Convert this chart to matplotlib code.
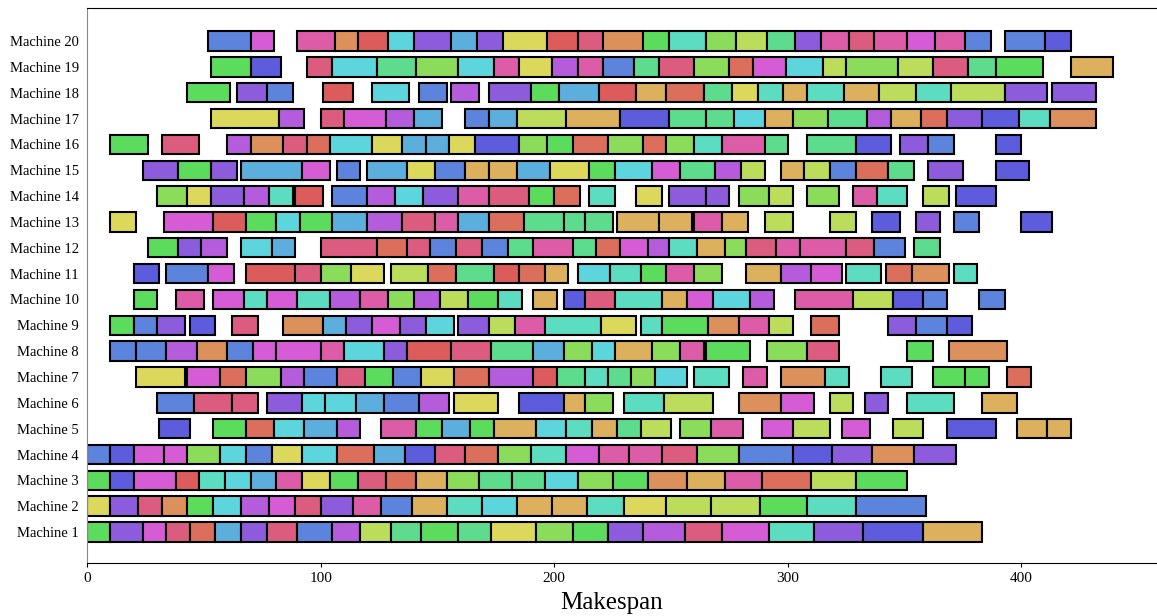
import matplotlib
matplotlib.use("Agg")
import matplotlib.pyplot as plt

# job colours (hls-like palette)
colors = {
    "r": "#dc5c5c", "R": "#dc5c80", "k": "#dc5ca8", "m": "#d65cd6",
    "v": "#b55cdc", "p": "#8c5cdc", "i": "#5c5cdc", "b": "#5c84dc",
    "s": "#5caedc", "c": "#5cd6dc", "t": "#5cdcc0", "e": "#5cdc8c",
    "g": "#5cdc5c", "h": "#8cdc5c", "l": "#bcdc5c", "y": "#dcd85c",
    "a": "#dcb05c", "o": "#dc905c", "n": "#dc6e5c",
}

# (start, end, job colour) per machine
M1 = [(0,10,"g"),(10,24,"p"),(24,34,"m"),(34,44,"R"),(44,55,"n"),(55,66,"s"),(66,77,"p"),(77,90,"R"),(90,105,"b"),(105,117,"v"),(117,130,"l"),(130,143,"e"),(143,159,"g"),(159,173,"e"),(173,192,"y"),(192,208,"h"),(208,223,"g"),(223,238,"p"),(238,256,"v"),(256,272,"R"),(272,292,"m"),(292,311,"t"),(311,332,"p"),(332,358,"i"),(358,383,"a")]
M2 = [(0,10,"y"),(10,22,"p"),(22,32,"R"),(32,43,"o"),(43,54,"g"),(54,66,"c"),(66,78,"v"),(78,89,"m"),(89,100,"R"),(100,114,"p"),(114,126,"k"),(126,139,"b"),(139,154,"a"),(154,169,"t"),(169,184,"c"),(184,199,"a"),(199,214,"a"),(214,230,"t"),(230,248,"y"),(248,267,"l"),(267,288,"l"),(288,308,"g"),(308,329,"t"),(329,359,"b")]
M3 = [(0,10,"g"),(10,20,"i"),(20,38,"m"),(38,48,"r"),(48,59,"t"),(59,70,"c"),(70,81,"s"),(81,92,"k"),(92,104,"y"),(104,116,"g"),(116,128,"R"),(128,141,"n"),(141,154,"a"),(154,168,"h"),(168,182,"e"),(182,196,"e"),(196,210,"c"),(210,225,"h"),(225,240,"g"),(240,257,"o"),(257,273,"a"),(273,289,"k"),(289,310,"n"),(310,329,"l"),(329,351,"g")]
M4 = [(0,10,"b"),(10,20,"i"),(20,33,"m"),(33,43,"m"),(43,57,"h"),(57,68,"c"),(68,79,"b"),(79,92,"y"),(92,107,"c"),(107,123,"n"),(123,136,"s"),(136,149,"i"),(149,162,"R"),(162,176,"n"),(176,190,"h"),(190,205,"t"),(205,219,"m"),(219,232,"k"),(232,246,"k"),(246,261,"R"),(261,279,"h"),(279,302,"b"),(302,319,"i"),(319,336,"p"),(336,354,"o"),(354,372,"p")]
M5 = [(31,44,"i"),(54,68,"g"),(68,80,"n"),(80,93,"c"),(93,107,"s"),(107,117,"v"),(126,141,"k"),(141,152,"g"),(152,164,"s"),(164,174,"g"),(174,192,"a"),(192,205,"c"),(205,216,"t"),(216,227,"a"),(227,237,"e"),(237,250,"l"),(254,267,"h"),(267,281,"k"),(289,302,"m"),(302,318,"l"),(323,335,"m"),(345,358,"l"),(368,389,"i"),(398,411,"a"),(411,421,"a")]
M6 = [(30,46,"b"),(46,62,"R"),(62,73,"R"),(77,92,"p"),(92,102,"c"),(102,115,"c"),(115,127,"s"),(127,142,"b"),(142,155,"v"),(157,176,"y"),(185,204,"i"),(204,213,"a"),(213,225,"h"),(230,247,"t"),(247,268,"l"),(279,297,"o"),(297,311,"m"),(318,328,"l"),(333,343,"p"),(351,371,"t"),(383,398,"a")]
M7 = [(21,42,"y"),(43,57,"m"),(57,68,"n"),(68,83,"h"),(83,93,"v"),(93,107,"b"),(107,119,"R"),(119,131,"g"),(131,143,"b"),(143,157,"y"),(157,172,"n"),(172,191,"v"),(191,201,"r"),(201,213,"e"),(213,223,"t"),(223,233,"e"),(233,243,"h"),(243,257,"c"),(260,275,"t"),(281,291,"k"),(297,316,"o"),(316,326,"t"),(340,353,"t"),(362,376,"g"),(376,386,"g"),(394,404,"n")]
M8 = [(10,21,"b"),(21,34,"b"),(34,47,"v"),(47,60,"o"),(60,71,"b"),(71,81,"m"),(81,100,"m"),(100,110,"k"),(110,127,"c"),(127,137,"p"),(137,156,"r"),(156,173,"R"),(173,191,"e"),(191,204,"s"),(204,216,"h"),(216,226,"c"),(226,242,"a"),(242,254,"h"),(254,264,"k"),(265,284,"g"),(291,308,"h"),(308,322,"R"),(351,362,"g"),(369,394,"o")]
M9 = [(10,20,"g"),(20,30,"b"),(30,42,"p"),(44,55,"i"),(62,73,"R"),(84,101,"o"),(101,111,"s"),(111,122,"p"),(122,134,"m"),(134,145,"p"),(145,157,"c"),(159,172,"p"),(172,183,"l"),(183,196,"k"),(196,220,"t"),(220,235,"y"),(237,246,"t"),(246,266,"g"),(266,279,"o"),(279,292,"k"),(292,302,"l"),(310,322,"n"),(343,355,"p"),(355,368,"b"),(368,379,"i")]
M10 = [(20,30,"g"),(38,50,"k"),(54,67,"m"),(67,77,"t"),(77,90,"m"),(90,104,"t"),(104,117,"v"),(117,129,"k"),(129,140,"h"),(140,151,"v"),(151,163,"l"),(163,176,"g"),(176,186,"t"),(191,201,"a"),(204,213,"i"),(213,226,"R"),(226,246,"t"),(246,257,"a"),(257,268,"m"),(268,284,"c"),(284,294,"v"),(303,328,"k"),(328,345,"l"),(345,358,"i"),(358,368,"b"),(382,393,"b")]
M11 = [(20,31,"i"),(34,52,"b"),(52,63,"m"),(68,89,"r"),(89,100,"R"),(100,113,"h"),(113,127,"y"),(130,146,"l"),(146,158,"n"),(158,174,"e"),(174,185,"r"),(185,196,"n"),(196,206,"a"),(210,224,"c"),(224,237,"t"),(237,248,"g"),(248,260,"k"),(260,272,"h"),(282,297,"a"),(297,310,"v"),(310,323,"m"),(325,340,"t"),(342,353,"n"),(353,369,"o"),(371,381,"t")]
M12 = [(26,39,"g"),(39,49,"p"),(49,60,"v"),(66,79,"c"),(79,89,"s"),(100,124,"R"),(124,137,"n"),(137,147,"R"),(147,158,"b"),(158,169,"R"),(169,180,"b"),(180,191,"e"),(191,208,"k"),(208,218,"e"),(218,228,"n"),(228,240,"m"),(240,249,"v"),(249,261,"t"),(261,273,"a"),(273,282,"h"),(282,295,"R"),(295,305,"k"),(305,325,"k"),(325,337,"R"),(337,350,"b"),(354,365,"e")]
M13 = [(10,21,"y"),(33,54,"m"),(54,68,"r"),(68,81,"g"),(81,91,"c"),(91,105,"g"),(105,120,"s"),(120,135,"v"),(135,149,"R"),(149,159,"k"),(159,172,"s"),(172,187,"n"),(187,204,"e"),(204,213,"e"),(213,225,"e"),(227,245,"a"),(245,259,"a"),(260,272,"k"),(272,283,"a"),(290,302,"l"),(318,329,"l"),(336,348,"i"),(355,365,"p"),(371,382,"b"),(400,413,"i")]
M14 = [(30,43,"h"),(43,53,"y"),(53,67,"p"),(67,78,"v"),(78,88,"t"),(89,101,"r"),(105,120,"b"),(120,132,"v"),(132,144,"c"),(144,159,"p"),(159,172,"k"),(172,189,"R"),(189,200,"g"),(200,211,"n"),(215,226,"t"),(235,246,"y"),(249,265,"p"),(265,275,"p"),(279,292,"h"),(292,302,"l"),(308,322,"h"),(328,338,"k"),(338,351,"t"),(358,369,"l"),(372,389,"i")]
M15 = [(24,39,"p"),(39,53,"g"),(53,64,"p"),(66,92,"s"),(92,104,"m"),(107,117,"b"),(120,137,"s"),(137,149,"y"),(149,162,"b"),(162,172,"a"),(172,184,"a"),(184,198,"s"),(198,215,"y"),(215,226,"g"),(226,242,"c"),(242,254,"m"),(254,269,"e"),(269,280,"v"),(280,290,"l"),(297,307,"a"),(307,318,"l"),(318,329,"b"),(329,343,"n"),(343,354,"e"),(360,375,"p"),(389,403,"i")]
M16 = [(10,26,"g"),(32,48,"R"),(60,70,"v"),(70,84,"o"),(84,94,"R"),(94,104,"n"),(104,122,"c"),(122,135,"y"),(135,145,"s"),(145,155,"s"),(155,166,"y"),(166,185,"i"),(185,197,"h"),(197,208,"g"),(208,223,"n"),(223,238,"h"),(238,248,"n"),(248,260,"h"),(260,272,"t"),(272,290,"k"),(290,300,"e"),(308,329,"e"),(329,344,"i"),(348,360,"p"),(360,371,"b"),(389,400,"i")]
M17 = [(53,82,"y"),(82,93,"v"),(100,110,"R"),(110,128,"m"),(128,140,"v"),(140,152,"s"),(162,172,"b"),(172,184,"s"),(184,205,"l"),(205,228,"a"),(228,249,"i"),(249,265,"e"),(265,277,"e"),(277,290,"c"),(290,302,"a"),(302,317,"h"),(317,334,"e"),(334,344,"v"),(344,357,"a"),(357,368,"n"),(368,383,"p"),(383,399,"i"),(399,412,"t"),(412,432,"o")]
M18 = [(43,61,"g"),(64,77,"p"),(77,88,"b"),(101,114,"r"),(122,138,"c"),(142,154,"b"),(156,168,"v"),(172,190,"p"),(190,202,"g"),(202,219,"s"),(219,235,"r"),(235,248,"a"),(248,264,"n"),(264,276,"e"),(276,287,"y"),(287,298,"t"),(298,308,"a"),(308,324,"t"),(324,339,"a"),(339,355,"l"),(355,370,"t"),(370,393,"l"),(393,411,"p"),(413,432,"p")]
M19 = [(53,70,"g"),(70,83,"i"),(94,105,"R"),(105,124,"c"),(124,141,"e"),(141,159,"h"),(159,174,"c"),(174,185,"k"),(185,199,"y"),(199,210,"v"),(210,221,"k"),(221,234,"b"),(234,245,"e"),(245,260,"R"),(260,275,"h"),(275,285,"n"),(285,299,"m"),(299,315,"c"),(315,325,"l"),(325,347,"h"),(347,362,"l"),(362,377,"R"),(377,389,"e"),(389,409,"g"),(421,439,"a")]
M20 = [(52,70,"b"),(70,80,"m"),(90,106,"k"),(106,116,"o"),(116,129,"r"),(129,140,"c"),(140,156,"p"),(156,167,"s"),(167,178,"p"),(178,197,"y"),(197,210,"r"),(210,221,"R"),(221,238,"o"),(238,249,"g"),(249,265,"t"),(265,278,"h"),(278,291,"l"),(291,303,"e"),(303,314,"p"),(314,326,"k"),(326,337,"R"),(337,351,"k"),(351,363,"m"),(363,376,"k"),(376,387,"b"),(393,410,"b"),(410,421,"i")]

machines = [M1, M2, M3, M4, M5, M6, M7, M8, M9, M10,
            M11, M12, M13, M14, M15, M16, M17, M18, M19, M20]
machine_labels = [f"Machine {i}" for i in range(1, 21)]

plt.rcParams["font.family"] = ["Liberation Serif", "DejaVu Serif"]

fig = plt.figure(figsize=(11.57, 6.16), dpi=100)
ax = fig.add_axes([0.0752, 0.086, 0.9248, 0.901])

for idx, ops in enumerate(machines):
    for start, end, c in ops:
        ax.barh(idx + 1, end - start, left=start, height=0.75,
                color=colors[c], edgecolor="black", linewidth=1.5)

ax.set_yticks(range(1, 21))
ax.set_yticklabels(machine_labels, fontsize=10.5)
ax.set_ylim(-0.2, 21.28)
ax.set_xlim(0, 458)
ax.set_xticks([0, 100, 200, 300, 400])
ax.tick_params(axis="x", labelsize=11, length=3)
ax.tick_params(axis="y", length=0, pad=6)
ax.set_xlabel("Makespan", fontsize=18)
ax.xaxis.set_label_coords(0.49, -0.052)
ax.spines["left"].set_color("#888888")
ax.spines["right"].set_visible(False)

fig.savefig("out.png", dpi=100)
